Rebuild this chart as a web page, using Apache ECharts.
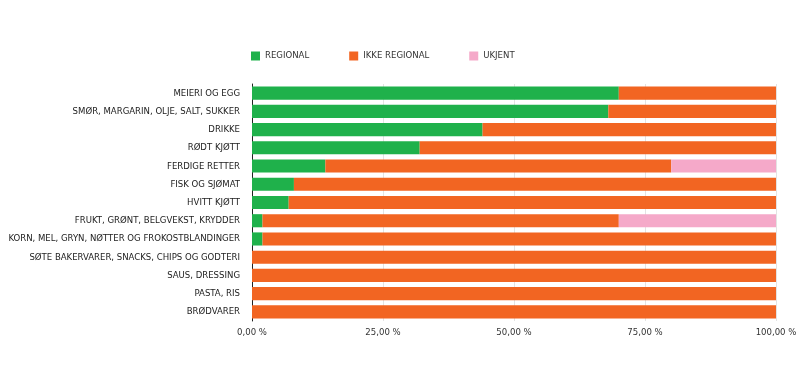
<!DOCTYPE html>
<html>
<head>
<meta charset="utf-8">
<script src="https://cdn.jsdelivr.net/npm/echarts@6/dist/echarts.min.js"></script>
<style>
  html, body { margin: 0; padding: 0; background: #fff; }
  #chart { width: 800px; height: 376px; }
</style>
</head>
<body>
<div id="chart"></div>
<script>
let categories = [
    'MEIERI OG EGG',
    'SMØR, MARGARIN, OLJE, SALT, SUKKER',
    'DRIKKE',
    'RØDT KJØTT',
    'FERDIGE RETTER',
    'FISK OG SJØMAT',
    'HVITT KJØTT',
    'FRUKT, GRØNT, BELGVEKST, KRYDDER',
    'KORN, MEL, GRYN, NØTTER OG FROKOSTBLANDINGER',
    'SØTE BAKERVARER, SNACKS, CHIPS OG GODTERI',
    'SAUS, DRESSING',
    'PASTA, RIS',
    'BRØDVARER'
];
let regional = [70, 68, 44, 32, 14, 8, 7, 2, 2, 0, 0, 0, 0];
let ikkeRegional = [30, 32, 56, 68, 66, 92, 93, 68, 98, 100, 100, 100, 100];
let ukjent = [0, 0, 0, 0, 20, 0, 0, 30, 0, 0, 0, 0, 0];
let xTicks = [0, 25, 50, 75, 100];

let fontName = '"DejaVu Sans Condensed", "Liberation Sans Narrow", sans-serif';

function pct(v) {
    return v.toFixed(2).replace('.', ',') + ' %';
}

let option = {
    animation: false,
    textStyle: { fontFamily: fontName },
    legend: {
        left: 246,
        top: 46,
        icon: 'rect',
        itemWidth: 9,
        itemHeight: 9,
        itemGap: 40,
        textStyle: { fontSize: 9.5, color: '#333', fontFamily: fontName },
        data: ['REGIONAL', 'IKKE REGIONAL', 'UKJENT']
    },
    grid: { left: 252, right: 24, top: 84, bottom: 55, outerBoundsMode: 'none' },
    xAxis: {
        type: 'value',
        min: xTicks[0],
        max: xTicks[xTicks.length - 1],
        interval: 25,
        axisLine: { show: false },
        axisTick: { show: false },
        splitLine: { lineStyle: { color: '#e3e3e3' } },
        axisLabel: { formatter: pct, fontSize: 9.5, color: '#333', margin: 7, fontFamily: fontName }
    },
    yAxis: {
        type: 'category',
        inverse: true,
        data: categories,
        axisLine: { show: true, lineStyle: { color: '#222' } },
        axisTick: { show: false },
        axisLabel: { fontSize: 9.5, color: '#222', margin: 12, fontFamily: fontName }
    },
    series: [
        { name: 'REGIONAL', type: 'bar', stack: 'a', barWidth: '72%', data: regional, itemStyle: { color: '#1fb14b' } },
        { name: 'IKKE REGIONAL', type: 'bar', stack: 'a', data: ikkeRegional, itemStyle: { color: '#f26522' } },
        { name: 'UKJENT', type: 'bar', stack: 'a', data: ukjent, itemStyle: { color: '#f5a9c9' } }
    ]
};

let chart = echarts.init(document.getElementById('chart'));
chart.setOption(option);
</script>
</body>
</html>
